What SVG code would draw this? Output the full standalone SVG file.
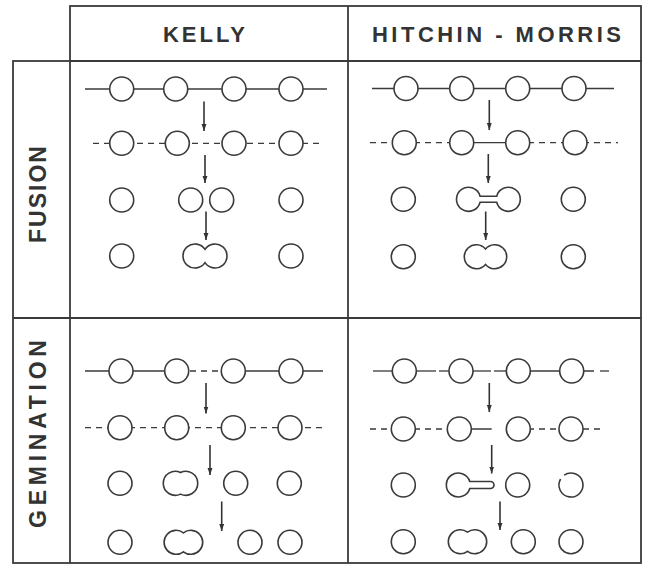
<svg xmlns="http://www.w3.org/2000/svg" width="649" height="565" viewBox="0 0 649 565">
<defs>
<style>
.frame{fill:none;stroke:#3a3a3a;stroke-width:1.8}
.c{fill:#fff;stroke:#3a3a3a;stroke-width:1.6}
.ln{fill:none;stroke:#3a3a3a;stroke-width:1.3}
.ds{fill:none;stroke:#3a3a3a;stroke-width:1.3;stroke-dasharray:6 5}
.ar{fill:none;stroke:#333;stroke-width:1.6;marker-end:url(#ah)}
.t{font-family:"Liberation Sans",Arial,sans-serif;font-weight:bold;font-size:22px;fill:#333}
</style>
<marker id="ah" markerUnits="userSpaceOnUse" markerWidth="7" markerHeight="10" refX="10" refY="3.5" orient="auto" viewBox="0 0 10 7">
<path d="M0,0 L10,3.5 L0,7 z" fill="#333"/>
</marker>
</defs>
<rect width="649" height="565" fill="#fff"/>

<g id="frame">
<rect class="frame" x="70" y="6" width="571" height="55"/>
<rect class="frame" x="13" y="61" width="628" height="502"/>
<line class="frame" x1="70" y1="61" x2="70" y2="563"/>
<line class="frame" x1="348" y1="6" x2="348" y2="563"/>
<line class="frame" x1="13" y1="318" x2="641" y2="318"/>
<text class="t" x="204" y="42" text-anchor="middle" textLength="82" lengthAdjust="spacing">KELLY</text>
<text class="t" x="496.5" y="42" text-anchor="middle" textLength="249" lengthAdjust="spacing">HITCHIN - MORRIS</text>
<text class="t" x="46" y="194.5" text-anchor="middle" transform="rotate(-90 46 194.5)" textLength="97" lengthAdjust="spacing" style="font-size:23px">FUSION</text>
<text class="t" x="46" y="434" text-anchor="middle" transform="rotate(-90 46 434)" textLength="188" lengthAdjust="spacing" style="font-size:23px">GEMINATION</text>
</g>

<g id="fusion-kelly">
<line class="ln" x1="85" y1="89" x2="327" y2="89"/>
<circle class="c" cx="121.7" cy="89" r="12"/><circle class="c" cx="175.7" cy="89" r="12"/><circle class="c" cx="234" cy="89" r="12"/><circle class="c" cx="291" cy="89" r="12"/>
<line class="ds" x1="93" y1="143.3" x2="323" y2="143.3"/>
<circle class="c" cx="121.7" cy="143.3" r="12"/><circle class="c" cx="177.3" cy="143.3" r="12"/><circle class="c" cx="234" cy="143.3" r="12"/><circle class="c" cx="291" cy="143.3" r="12"/>
<circle class="c" cx="121.7" cy="200" r="12"/><circle class="c" cx="190.7" cy="200" r="12"/><circle class="c" cx="221.7" cy="200" r="12"/><circle class="c" cx="291" cy="200" r="12"/>
<circle class="c" cx="121.7" cy="256" r="12"/>
<path class="c" d="M205,249.37 A12,12 0 1 0 205,262.63 A12,12 0 1 0 205,249.37 Z"/>
<circle class="c" cx="291" cy="256" r="12"/>
</g>

<g id="fusion-hitchin">
<line class="ln" x1="372" y1="88.5" x2="614" y2="88.5"/>
<circle class="c" cx="406" cy="88.5" r="12"/><circle class="c" cx="461.7" cy="88.5" r="12"/><circle class="c" cx="517.7" cy="88.5" r="12"/><circle class="c" cx="574" cy="88.5" r="12"/>
<line class="ds" x1="370" y1="142.7" x2="452" y2="142.7"/>
<line class="ln" x1="461.7" y1="142.7" x2="517.7" y2="142.7"/>
<line class="ds" x1="528" y1="142.7" x2="618" y2="142.7"/>
<circle class="c" cx="404.3" cy="142.7" r="12"/><circle class="c" cx="461.7" cy="142.7" r="12"/><circle class="c" cx="517.7" cy="142.7" r="12"/><circle class="c" cx="575" cy="142.7" r="12"/>
<circle class="c" cx="403.3" cy="199.3" r="12"/>
<path class="c" d="M480.1,196.3 L496.7,196.3 A12,12 0 1 1 496.7,202.3 L480.1,202.3 A12,12 0 1 1 480.1,196.3 Z"/>
<circle class="c" cx="573.3" cy="199.3" r="12"/>
<circle class="c" cx="403.3" cy="256.7" r="12"/>
<path class="c" d="M485.5,249 A12,12 0 1 0 485.5,264.4 A12,12 0 1 0 485.5,249 Z"/>
<circle class="c" cx="573.3" cy="256.7" r="12"/>
</g>

<g id="gemination-kelly">
<line class="ln" x1="85" y1="371" x2="170" y2="371"/>
<line class="ds" x1="190" y1="371" x2="222" y2="371"/>
<line class="ln" x1="240" y1="371" x2="323" y2="371"/>
<circle class="c" cx="121" cy="371" r="12"/><circle class="c" cx="176.7" cy="371" r="12"/><circle class="c" cx="233.3" cy="371" r="12"/><circle class="c" cx="291" cy="371" r="12"/>
<line class="ds" x1="85" y1="427.7" x2="327" y2="427.7"/>
<circle class="c" cx="120" cy="427.7" r="12"/><circle class="c" cx="176.7" cy="427.7" r="12"/><circle class="c" cx="233.3" cy="427.7" r="12"/><circle class="c" cx="290" cy="427.7" r="12"/>
<circle class="c" cx="120" cy="483.3" r="12"/>
<path class="c" d="M180.5,472.5 A12,12 0 1 0 180.5,494.1 A12,12 0 1 0 180.5,472.5 Z"/>
<circle class="c" cx="235.7" cy="483.3" r="12"/><circle class="c" cx="289.3" cy="483.3" r="12"/>
<circle class="c" cx="120" cy="542.3" r="12"/>
<path class="c" d="M183.4,532.8 A12,12 0 1 0 183.4,551.8 A12,12 0 1 0 183.4,532.8 Z"/>
<circle class="c" cx="250" cy="542.3" r="12"/><circle class="c" cx="290" cy="542.3" r="12"/>
</g>

<g id="gemination-hitchin">
<line class="ln" x1="373" y1="371" x2="395" y2="371"/>
<line class="ln" x1="414" y1="371" x2="436" y2="371"/>
<line class="ln" x1="439" y1="371" x2="452" y2="371"/>
<line class="ln" x1="470" y1="371" x2="491" y2="371"/>
<line class="ln" x1="494" y1="371" x2="509" y2="371"/>
<line class="ln" x1="527" y1="371" x2="594" y2="371"/>
<line class="ln" x1="600" y1="371" x2="609" y2="371"/>
<circle class="c" cx="404.3" cy="371" r="12"/><circle class="c" cx="461" cy="371" r="12"/><circle class="c" cx="518.3" cy="371" r="12"/><circle class="c" cx="571.7" cy="371" r="12"/>
<line class="ds" x1="370" y1="429" x2="450" y2="429"/>
<line class="ln" x1="459.3" y1="429" x2="491.7" y2="429"/>
<line class="ds" x1="528" y1="429" x2="603" y2="429"/>
<circle class="c" cx="403.3" cy="429" r="12"/><circle class="c" cx="459.3" cy="429" r="12"/><circle class="c" cx="518.3" cy="429" r="12"/><circle class="c" cx="571" cy="429" r="12"/>
<circle class="c" cx="403.3" cy="485" r="12"/>
<path class="c" d="M469.8,481.5 L490.5,481.5 A3.5,3.5 0 0 1 490.5,488.5 L469.8,488.5 A12,12 0 1 1 469.8,481.5 Z"/>
<circle class="c" cx="517.7" cy="485" r="12"/>
<path class="c" d="M564.1,475.2 A12,12 0 1 1 560.6,479"/>
<circle class="c" cx="403.3" cy="541.7" r="12"/>
<path class="c" d="M467.5,532.1 A12,12 0 1 0 467.5,551.3 A12,12 0 1 0 467.5,532.1 Z"/>
<circle class="c" cx="523.3" cy="541.7" r="12"/><circle class="c" cx="571" cy="541.7" r="12"/>
</g>

<g id="connectors">
<line class="ar" x1="204" y1="101.5" x2="204" y2="131"/>
<line class="ar" x1="205" y1="155" x2="205" y2="183"/>
<line class="ar" x1="206" y1="211.5" x2="206" y2="240"/>
<line class="ar" x1="489.3" y1="100" x2="489.3" y2="130"/>
<line class="ar" x1="488.3" y1="154" x2="488.3" y2="183"/>
<line class="ar" x1="485.7" y1="211.5" x2="485.7" y2="240"/>
<line class="ar" x1="206" y1="383" x2="206" y2="413.5"/>
<line class="ar" x1="210" y1="445" x2="210" y2="475"/>
<line class="ar" x1="221.7" y1="501.5" x2="221.7" y2="531"/>
<line class="ar" x1="489.3" y1="383" x2="489.3" y2="412"/>
<line class="ar" x1="491.7" y1="445" x2="491.7" y2="473.5"/>
<line class="ar" x1="500" y1="501.5" x2="500" y2="530"/>
</g>
</svg>
